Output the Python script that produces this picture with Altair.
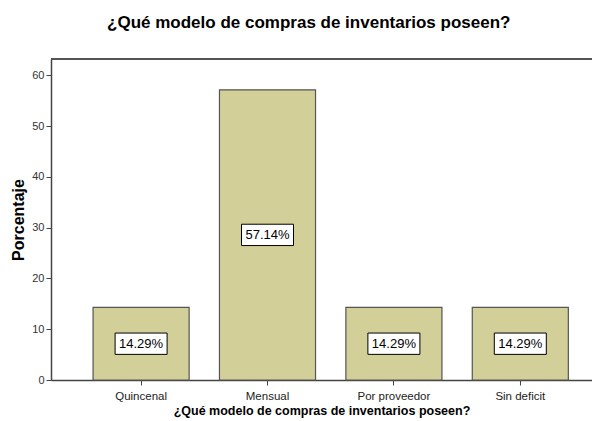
import altair as alt
import pandas as pd

categories = ["Quincenal", "Mensual", "Por proveedor", "Sin deficit"]
percentages = [14.29, 57.14, 14.29, 14.29]
labels = ["14.29%", "57.14%", "14.29%", "14.29%"]
y_ticks = [0, 10, 20, 30, 40, 50, 60]

df = pd.DataFrame({"cat": categories, "pct": percentages, "lab": labels})

W, H = 541, 321
FONT = "Liberation Sans"

x_enc = alt.X(
    "cat:N",
    sort=categories,
    scale=alt.Scale(paddingInner=0.24, paddingOuter=0.26, align=0.64),
    axis=alt.Axis(
        title="¿Qué modelo de compras de inventarios poseen?",
        titleFont=FONT, titleFontSize=12.5, titleFontWeight="bold", titleColor="#000",
        titlePadding=3,
        labelFont=FONT, labelFontSize=11.5, labelColor="#222", labelAngle=0, labelPadding=5,
        domainColor="#444", domainWidth=1.5, tickColor="#444", tickSize=5,
    ),
)

base = alt.Chart(df)

bars = base.mark_bar(color="#D3CF99", stroke="#555555", strokeWidth=1.2).encode(
    x=x_enc,
    y=alt.Y(
        "pct:Q",
        scale=alt.Scale(domain=[0, 63.2], nice=False),
        axis=alt.Axis(
            values=y_ticks, title="Porcentaje",
            titleFont=FONT, titleFontSize=16, titleFontWeight="bold", titleColor="#000",
            titlePadding=5,
            labelFont=FONT, labelFontSize=11, labelColor="#333", labelPadding=2,
            domainColor="#444", domainWidth=1.5, tickColor="#444", tickSize=5,
            grid=False,
        ),
    ),
)

boxes = base.transform_calculate(mid="datum.pct / 2").mark_point(
    shape="M-1,-0.41 L1,-0.41 L1,0.41 L-1,0.41 Z",
    size=52 * 52, filled=True, fill="white", stroke="#000", strokeWidth=1, opacity=1,
).encode(x=alt.X("cat:N", sort=categories), y=alt.Y("mid:Q"))

texts = base.transform_calculate(mid="datum.pct / 2").mark_text(
    font=FONT, fontSize=13, color="#000", baseline="middle", align="center", dy=0.5,
).encode(x=alt.X("cat:N", sort=categories), y=alt.Y("mid:Q"), text="lab:N")

top_line = alt.Chart(df).mark_rule(color="#555", strokeWidth=1.5).encode(
    x=alt.value(0), x2=alt.value(W), y=alt.value(0)
)

chart = alt.layer(bars, boxes, texts, top_line).properties(
    width=W, height=H,
    autosize=alt.AutoSizeParams(type="none"),
    padding={"left": 43, "top": 51, "right": 0, "bottom": 40},
    title=alt.TitleParams(
        "¿Qué modelo de compras de inventarios poseen?",
        font=FONT, fontSize=17, fontWeight="bold", color="#000",
        anchor="middle", frame="bounds", offset=26, dx=7,
    ),
).configure_view(fill="#F0F0F0", stroke=None).configure(background="white")

chart.save("out.html", embed_options={"renderer": "svg", "actions": False})
